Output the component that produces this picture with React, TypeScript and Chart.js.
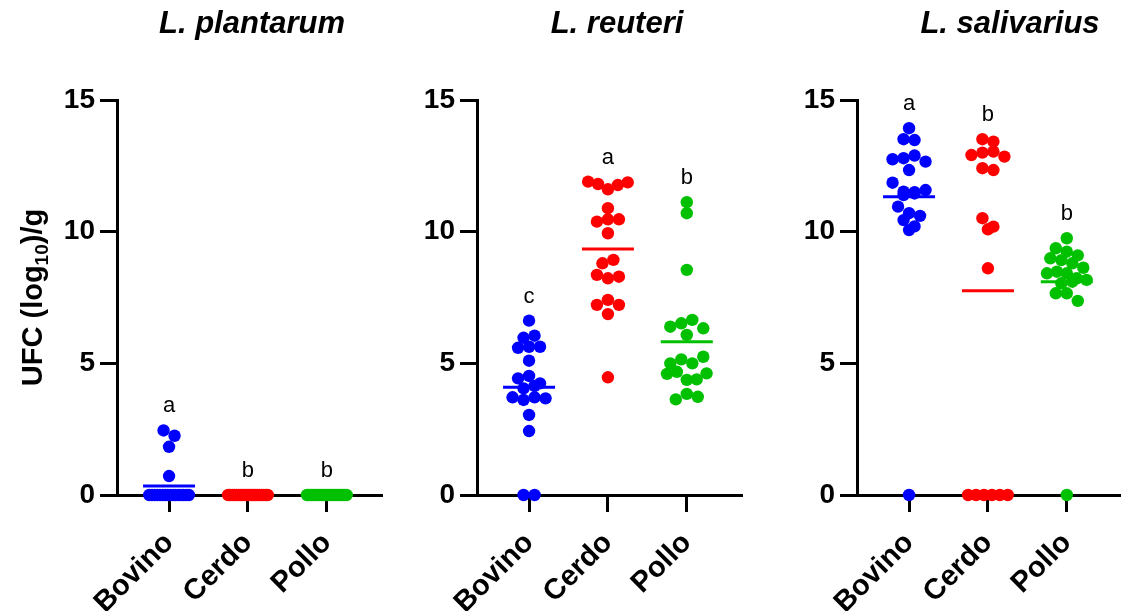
import React, { useEffect, useRef } from "react";
import { Chart, registerables } from "chart.js";

Chart.register(...registerables);

// ---------- data ----------
const categories = ["Bovino", "Cerdo", "Pollo"];
const panelTitles = ["L. plantarum", "L. reuteri", "L. salivarius"];
const yTickValues = [0, 5, 10, 15];

const plantarumBovino = [2.45, 2.25, 1.83, 0.72, 0, 0, 0, 0, 0, 0, 0, 0, 0, 0, 0, 0, 0, 0, 0, 0];
const plantarumCerdo = [0, 0, 0, 0, 0, 0, 0, 0, 0, 0, 0, 0, 0, 0, 0, 0, 0, 0, 0, 0];
const plantarumPollo = [0, 0, 0, 0, 0, 0, 0, 0, 0, 0, 0, 0, 0, 0, 0, 0, 0, 0, 0, 0];
const plantarumMeans = [0.34, 0, 0];
const plantarumLetters = ["a", "b", "b"];

const reuteriBovino = [6.62, 5.97, 6.05, 5.59, 5.63, 5.63, 5.1, 4.43, 4.52, 4.24, 4.05, 4.14, 3.71, 3.61, 3.71, 3.67, 3.04, 2.43, 0, 0];
const reuteriCerdo = [11.9, 11.81, 11.61, 11.77, 11.87, 10.89, 10.38, 10.47, 10.47, 9.94, 8.8, 8.93, 8.36, 8.23, 8.29, 7.22, 7.41, 7.22, 6.87, 4.47];
const reuteriPollo = [11.12, 10.7, 8.55, 6.39, 6.52, 6.65, 6.33, 6.08, 5.0, 5.15, 5.0, 5.25, 4.6, 4.68, 4.37, 4.39, 4.62, 3.63, 3.84, 3.73];
const reuteriMeans = [4.09, 9.34, 5.82];
const reuteriLetters = ["c", "a", "b"];

const salivariusBovino = [13.93, 13.51, 13.48, 12.75, 12.79, 12.89, 12.66, 12.34, 11.86, 11.52, 11.39, 11.45, 11.5, 11.58, 10.95, 10.7, 10.6, 10.44, 10.2, 10.06, 0];
const salivariusCerdo = [13.51, 13.42, 12.91, 13.0, 13.04, 12.85, 12.41, 12.34, 10.51, 10.09, 10.19, 8.61, 0, 0, 0, 0, 0, 0];
const salivariusPollo = [9.75, 9.37, 9.24, 9.1, 8.99, 8.92, 8.8, 8.63, 8.42, 8.48, 8.42, 8.23, 8.04, 8.1, 8.17, 7.66, 7.66, 7.37, 0];
const salivariusMeans = [11.33, 7.76, 8.1];
const salivariusLetters = ["a", "b", "b"];

// ---------- styles / layout ----------
const groupColors = ["#0000FF", "#FF0000", "#00C000"];
const FONT = '"Liberation Sans", Arial, Helvetica, sans-serif';
const X_MIN = 0.34;
const X_MAX = 3.7;
const DOT_R = 6.2;
const PX_PER_X = 78.9; // chart-area px per x unit (265px / 3.36)
const PX_PER_Y = 26.33; // chart-area px per y unit (395px / 15)
const DOT_X = 11 / PX_PER_X;
const BIN = 9.5 / PX_PER_Y;
const MAX_HALF = (26 - DOT_R) / PX_PER_X;
const MEAN_HALF = 26 / PX_PER_X;

type PanelCfg = {
  title: string;
  groups: number[][];
  means: number[];
  letters: string[];
  left: number;
  titleOffset: number;
  yTitle: boolean;
};

const panels: PanelCfg[] = [
  { title: panelTitles[0], groups: [plantarumBovino, plantarumCerdo, plantarumPollo], means: plantarumMeans, letters: plantarumLetters, left: 0, titleOffset: 135, yTitle: true },
  { title: panelTitles[1], groups: [reuteriBovino, reuteriCerdo, reuteriPollo], means: reuteriMeans, letters: reuteriLetters, left: 360, titleOffset: 140, yTitle: false },
  { title: panelTitles[2], groups: [salivariusBovino, salivariusCerdo, salivariusPollo], means: salivariusMeans, letters: salivariusLetters, left: 740, titleOffset: 153, yTitle: false },
];

// beeswarm-like layout: bin by value into rows, centre each row
function swarm(values: number[], center: number) {
  const idx = values.map((_, i) => i).sort((a, b) => values[b] - values[a] || a - b);
  const rows: number[][] = [];
  let cur: number[] = [];
  let start = 0;
  for (const i of idx) {
    if (cur.length && start - values[i] < BIN) cur.push(i);
    else {
      if (cur.length) rows.push(cur);
      cur = [i];
      start = values[i];
    }
  }
  if (cur.length) rows.push(cur);
  const pts: { x: number; y: number }[] = [];
  for (const row of rows) {
    row.sort((a, b) => a - b);
    const n = row.length;
    const step = n > 1 ? Math.min(DOT_X, (2 * MAX_HALF) / (n - 1)) : 0;
    row.forEach((i, k) => pts.push({ x: center + (k - (n - 1) / 2) * step, y: values[i] }));
  }
  return pts;
}

function Panel({ cfg }: { cfg: PanelCfg }) {
  const ref = useRef<HTMLCanvasElement>(null);
  useEffect(() => {
    const canvas = ref.current;
    if (!canvas) return;
    const dotSets: any[] = cfg.groups.map((vals, g) => ({
      type: "scatter",
      data: swarm(vals, g + 1),
      pointRadius: DOT_R,
      pointHoverRadius: DOT_R,
      pointBackgroundColor: groupColors[g],
      pointBorderWidth: 0,
      borderWidth: 0,
      showLine: false,
      clip: false,
      order: 1,
    }));
    const meanSets: any[] = cfg.means.map((m, g) => ({
      type: "line",
      data: [
        { x: g + 1 - MEAN_HALF, y: m },
        { x: g + 1 + MEAN_HALF, y: m },
      ],
      borderColor: groupColors[g],
      borderWidth: 3,
      borderCapStyle: "butt",
      pointRadius: 0,
      fill: false,
      clip: false,
      order: 0,
    }));

    const decor = {
      id: "decor",
      afterDatasetsDraw(chart: any) {
        const { ctx, chartArea, scales } = chart;
        const xs = scales.x;
        const ys = scales.y;
        ctx.save();
        ctx.fillStyle = "#000";
        // significance letters
        ctx.font = `22px ${FONT}`;
        ctx.textAlign = "center";
        ctx.textBaseline = "alphabetic";
        cfg.groups.forEach((vals, g) => {
          const top = Math.max(...vals);
          ctx.fillText(cfg.letters[g], xs.getPixelForValue(g + 1), ys.getPixelForValue(top) - 18);
        });
        // panel title
        ctx.font = `italic bold 31px ${FONT}`;
        ctx.fillText(cfg.title, chartArea.left + cfg.titleOffset, 33);
        // y-axis title with subscript
        if (cfg.yTitle) {
          const big = `bold 29px ${FONT}`;
          const small = `bold 19px ${FONT}`;
          const p1 = "UFC (log";
          const p2 = "10";
          const p3 = ")/g";
          ctx.font = big;
          const w1 = ctx.measureText(p1).width;
          const w3 = ctx.measureText(p3).width;
          ctx.font = small;
          const w2 = ctx.measureText(p2).width;
          const total = w1 + w2 + w3;
          ctx.translate(42, (chartArea.top + chartArea.bottom) / 2);
          ctx.rotate(-Math.PI / 2);
          ctx.textAlign = "left";
          let x = -total / 2;
          ctx.font = big;
          ctx.fillText(p1, x, 0);
          x += w1;
          ctx.font = small;
          ctx.fillText(p2, x, 6);
          x += w2;
          ctx.font = big;
          ctx.fillText(p3, x, 0);
        }
        ctx.restore();
      },
    };

    const chart = new Chart(canvas, {
      type: "scatter",
      data: { datasets: [...meanSets, ...dotSets] },
      options: {
        animation: false,
        responsive: false,
        maintainAspectRatio: false,
        events: [],
        layout: { padding: { top: 100, right: 18, left: 0, bottom: 0 } },
        plugins: {
          legend: { display: false },
          tooltip: { enabled: false },
          title: { display: false },
        },
        scales: {
          x: {
            type: "linear",
            min: X_MIN,
            max: X_MAX,
            afterBuildTicks: (axis: any) => {
              axis.ticks = categories.map((_, i) => ({ value: i + 1 }));
            },
            afterFit: (axis: any) => {
              axis.height = 116;
            },
            ticks: {
              autoSkip: false,
              minRotation: 45,
              maxRotation: 45,
              padding: 14,
              color: "#000",
              font: { family: FONT, size: 29, weight: "bold" },
              callback: (v: any) => categories[Math.round(Number(v)) - 1] ?? "",
            },
            grid: {
              drawOnChartArea: false,
              drawTicks: true,
              tickLength: 17,
              tickWidth: 3,
              tickColor: "#000",
            },
            border: { display: true, color: "#000", width: 3 },
          },
          y: {
            type: "linear",
            min: 0,
            max: 15,
            afterBuildTicks: (axis: any) => {
              axis.ticks = yTickValues.map((v) => ({ value: v }));
            },
            afterFit: (axis: any) => {
              axis.width = 117;
            },
            ticks: {
              padding: 5,
              color: "#000",
              font: { family: FONT, size: 28, weight: "bold" },
            },
            grid: {
              drawOnChartArea: false,
              drawTicks: true,
              tickLength: 17,
              tickWidth: 3,
              tickColor: "#000",
            },
            border: { display: true, color: "#000", width: 3 },
          },
        },
      } as any,
      plugins: [decor],
    } as any);
    return () => chart.destroy();
  }, [cfg]);
  return (
    <canvas
      ref={ref}
      width={400}
      height={611}
      style={{ position: "absolute", left: cfg.left, top: 0, width: 400, height: 611 }}
    />
  );
}

export default function App() {
  return (
    <div
      style={{
        position: "absolute",
        left: 0,
        top: 0,
        width: 1121,
        height: 611,
        overflow: "hidden",
        background: "#fff",
      }}
    >
      {panels.map((p) => (
        <Panel key={p.title} cfg={p} />
      ))}
    </div>
  );
}
